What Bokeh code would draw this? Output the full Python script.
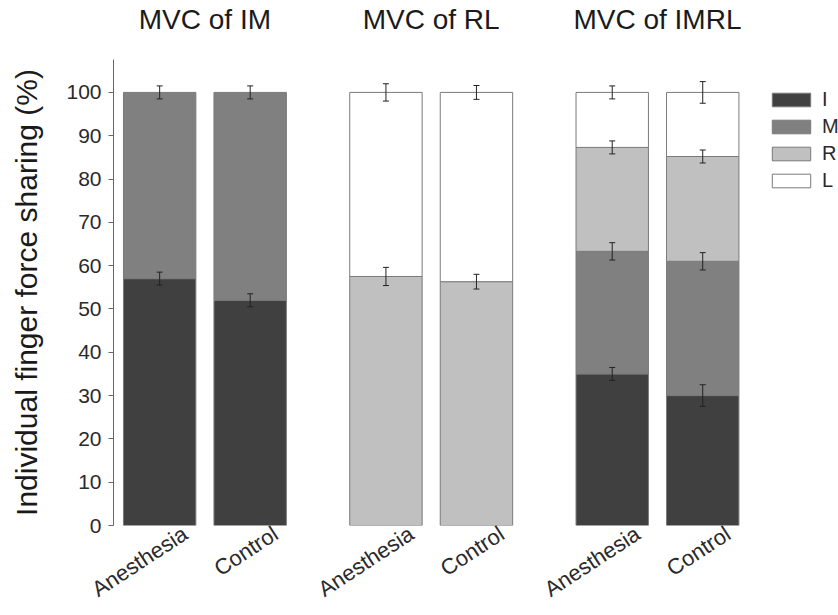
from bokeh.plotting import figure
from bokeh.models import (ColumnDataSource, FixedTicker, Whisker, TeeHead, Legend,
                          LegendItem, Range1d, LinearAxis)
from bokeh.embed import file_html
from bokeh.resources import INLINE

# ---- data ----
group_titles = ["MVC of IM", "MVC of RL", "MVC of IMRL"]
conditions = ["Anesthesia", "Control"]
fingers = ["I", "M", "R", "L"]
# shares per bar (order: IM-Anes, IM-Ctrl, RL-Anes, RL-Ctrl, IMRL-Anes, IMRL-Ctrl)
share_I = [57.0, 52.0, 0.0, 0.0, 35.0, 30.0]
share_M = [43.0, 48.0, 0.0, 0.0, 28.3, 31.0]
share_R = [0.0, 0.0, 57.5, 56.3, 24.0, 24.2]
share_L = [0.0, 0.0, 42.5, 43.7, 12.7, 14.8]
err_I = [1.5, 1.5, 0.0, 0.0, 1.5, 2.5]
err_M = [1.5, 1.5, 0.0, 0.0, 2.0, 2.0]
err_R = [0.0, 0.0, 2.1, 1.7, 1.5, 1.5]
err_L = [0.0, 0.0, 2.0, 1.6, 1.5, 2.5]
y_ticks = [0, 10, 20, 30, 40, 50, 60, 70, 80, 90, 100]

shares = [share_I, share_M, share_R, share_L]
errs = [err_I, err_M, err_R, err_L]
colors = ["#404040", "#808080", "#c0c0c0", "#ffffff"]

FONT = "Liberation Sans"
GROUP_STEP = 2.5
LABEL_SHIFT = 0.28125
positions = []
labels = []
for g in range(len(group_titles)):
    for c, cond in enumerate(conditions):
        positions.append(g * GROUP_STEP + c)
        labels.append(cond)
title_pos = [g * GROUP_STEP + 0.5 for g in range(len(group_titles))]

p = figure(width=838, height=615, output_backend="svg", toolbar_location=None,
           x_range=Range1d(-0.51, 7.5), y_range=Range1d(0, 107.6),
           min_border_left=113, min_border_right=0, min_border_top=0, min_border_bottom=88)
p.outline_line_color = None
p.grid.grid_line_color = None

renderers = []
bottoms = [0.0] * len(positions)
for f, (vals, ers, col) in enumerate(zip(shares, errs, colors)):
    xs, bots, tops, lo, hi = [], [], [], [], []
    for i, v in enumerate(vals):
        if v > 0:
            xs.append(positions[i])
            bots.append(bottoms[i])
            tops.append(bottoms[i] + v)
            lo.append(bottoms[i] + v - ers[i])
            hi.append(bottoms[i] + v + ers[i])
        bottoms[i] += v
    src = ColumnDataSource(dict(x=xs, bottom=bots, top=tops, lower=lo, upper=hi))
    r = p.vbar(x="x", bottom="bottom", top="top", width=0.8, source=src,
               fill_color=col, line_color="#7a7a7a", line_width=1)
    renderers.append(r)
    w = Whisker(source=src, base="x", lower="lower", upper="upper", level="overlay",
                line_color="#222222", line_width=1,
                upper_head=TeeHead(size=6, line_color="#222222", line_width=1),
                lower_head=TeeHead(size=6, line_color="#222222", line_width=1))
    p.add_layout(w)

# x category labels (rotated) on the bottom axis
bottom_axis = p.below[0]
tick_pos = [x + LABEL_SHIFT for x in positions]
bottom_axis.ticker = FixedTicker(ticks=tick_pos)
bottom_axis.major_label_overrides = {t: s for t, s in zip(tick_pos, labels)}
bottom_axis.major_label_orientation = 0.58
bottom_axis.major_label_text_font = FONT
bottom_axis.major_label_text_font_size = "22px"
bottom_axis.major_label_text_color = "#2a2a2a"
bottom_axis.axis_line_color = None
bottom_axis.major_tick_line_color = None
bottom_axis.minor_tick_line_color = None
bottom_axis.major_tick_out = 0
bottom_axis.major_label_standoff = 6

# group titles as an axis above the frame
top_axis = LinearAxis(ticker=FixedTicker(ticks=title_pos),
                      major_label_overrides={t: s for t, s in zip(title_pos, group_titles)},
                      axis_line_color=None, major_tick_line_color=None,
                      minor_tick_line_color=None, major_tick_out=0, major_tick_in=0,
                      major_label_standoff=25,
                      major_label_text_font=FONT, major_label_text_font_size="28px",
                      major_label_text_color="#1a1a1a")
p.add_layout(top_axis, "above")

# y axis
left_axis = p.left[0]
left_axis.ticker = FixedTicker(ticks=y_ticks)
left_axis.axis_label = "Individual finger force sharing (%)"
left_axis.axis_label_text_font = FONT
left_axis.axis_label_text_font_style = "normal"
left_axis.axis_label_text_font_size = "30px"
left_axis.axis_label_text_color = "#1a1a1a"
left_axis.axis_label_standoff = 20
left_axis.major_label_text_font = FONT
left_axis.major_label_text_font_size = "21px"
left_axis.major_label_text_color = "#2a2a2a"
left_axis.major_tick_out = 5
left_axis.major_tick_in = 0
left_axis.minor_tick_line_color = None
left_axis.axis_line_color = "#666666"
left_axis.major_tick_line_color = "#666666"
left_axis.major_label_standoff = 7

legend = Legend(items=[LegendItem(label=f, renderers=[r]) for f, r in zip(fingers, renderers)],
                location=(654, 333), glyph_width=48, glyph_height=17, label_height=17,
                spacing=4, padding=0, margin=0, border_line_color=None,
                background_fill_alpha=0, label_text_font=FONT, label_text_font_size="20px",
                label_standoff=7, label_text_color="#2a2a2a")
p.add_layout(legend)

open("out.html", "w").write(file_html(p, INLINE))
